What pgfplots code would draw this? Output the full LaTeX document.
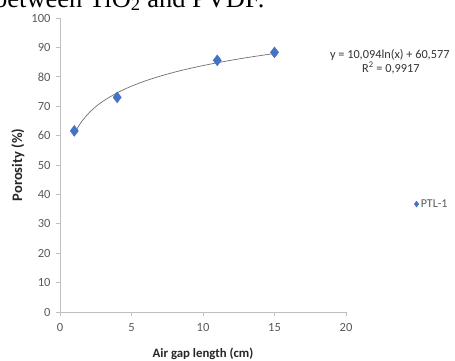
\documentclass[border=0pt]{standalone}
\usepackage{fontspec}
\setmainfont{Carlito}
\newfontfamily\serifdoc{Liberation Serif}
\usepackage{pgfplots}
\pgfplotsset{compat=1.18}
\definecolor{mkblue}{HTML}{4472C4}
\definecolor{axgray}{HTML}{BFBFBF}
\definecolor{txtgray}{HTML}{595959}
\definecolor{trendgray}{HTML}{6F6F6F}
\begin{document}
\begin{tikzpicture}
\useasboundingbox (0,0) rectangle (455pt,360pt);
\node[anchor=base west, inner sep=0pt, font=\serifdoc\fontsize{26.5}{30}\selectfont] at (-6pt,353pt) {between TiO\textsubscript{2} and PVDF.};
\begin{axis}[
  at={(60pt,48pt)}, anchor=south west,
  scale only axis, width=286pt, height=294pt,
  xmin=0, xmax=20, ymin=0, ymax=100,
  xtick={0,5,10,15,20}, ytick={0,10,...,100},
  axis x line=bottom, axis y line=left,
  axis line style={-, color=axgray, line width=0.8pt},
  tick style={color=axgray, line width=0.8pt},
  major tick length=4pt, tick align=outside,
  /pgf/number format/assume math mode=true,
  ticklabel style={font=\fontsize{12.5}{14}\selectfont, text=txtgray},
  xticklabel style={yshift=-4pt},
  yticklabel style={xshift=-2pt},
  xlabel={\textbf{Air gap length (cm)}},
  ylabel={\textbf{Porosity (\%)}},
  label style={text=black!85},
  xlabel style={font=\fontsize{12.8}{14}\selectfont, at={(axis description cs:0.5,-0.142)}, anchor=center},
  ylabel style={font=\fontsize{14.5}{16}\selectfont, at={(axis description cs:-0.147,0.5)}, anchor=center, rotate=0},
  legend style={at={(axis description cs:1.238,0.367)}, anchor=west, draw=none, fill=none, font=\fontsize{12}{14}\selectfont, text=txtgray, inner sep=0pt},
  legend image post style={mark size=3pt},
  legend cell align=left,
  clip=false,
]
\addplot[only marks, mark=diamond*, mark size=5.5pt, color=mkblue, mark options={fill=mkblue, draw=mkblue}] coordinates {
  (1,61.6) (4,73.0) (11,85.6) (15,88.3)
};
\addlegendentry{PTL-1}
\addplot[smooth, color=trendgray, line width=0.7pt, forget plot] coordinates {
  (1,60.577) (1.25,62.83) (1.5,64.67) (2,67.57) (2.5,69.83) (3,71.67) (4,74.57) (5,76.82) (6,78.66) (7,80.22) (8,81.57) (9,82.76) (10,83.82) (11,84.78) (12,85.66) (13,86.47) (14,87.22) (15,87.91)
};
\node[font=\fontsize{12.3}{14}\selectfont, text=black!80] at (axis description cs:1.153,0.874) {y = 10,094ln(x) + 60,577};
\node[font=\fontsize{12.3}{14}\selectfont, text=black!80] at (axis description cs:1.157,0.830) {R\textsuperscript{2} = 0,9917};
\end{axis}
\end{tikzpicture}
\end{document}
